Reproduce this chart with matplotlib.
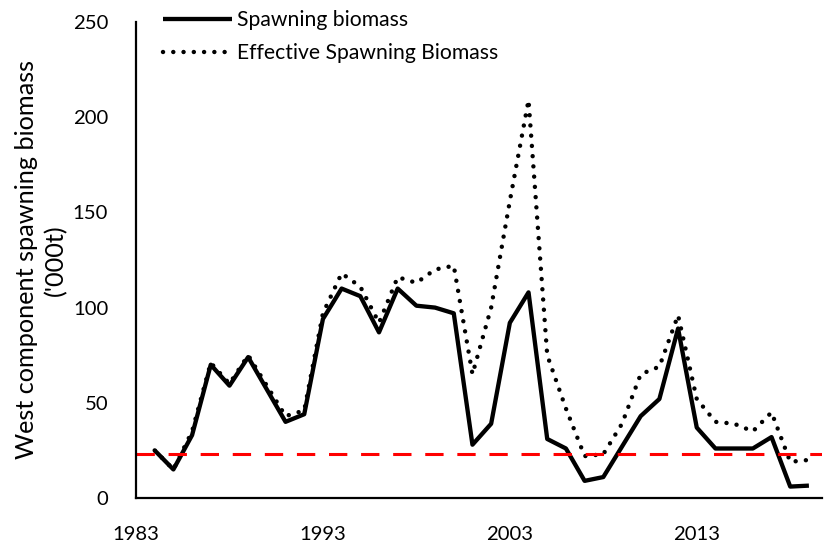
import matplotlib.pyplot as plt
import numpy as np

years = list(range(1984, 2020))
spawning = [25, 15, 33, 70, 59, 74, 57, 40, 44, 94, 110, 106, 87, 110, 101, 100, 97, 28, 39,
            92, 108, 31, 26, 9, 11, 27, 43, 52, 89, 37, 26, 26, 26, 32, 6, 6.5]
effective = [25, 15, 35, 71, 60, 75, 59, 43, 46, 97, 118, 111, 92, 116, 113, 120, 122, 65, 100,
             156, 209, 75, 47, 22, 23, 39, 65, 69, 96, 52, 40, 39, 35, 45, 19, 20]
threshold = 23
xticks = [1983, 1993, 2003, 2013]
yticks = [0, 50, 100, 150, 200, 250]

plt.rcParams['font.family'] = ['Lato', 'DejaVu Sans']

fig = plt.figure(figsize=(8.24, 5.45), dpi=100)
ax = fig.add_axes([136 / 824, 47 / 545, 686 / 824, 476 / 545])

ax.plot(years, spawning, color='black', lw=3.1, solid_joinstyle='round',
        solid_capstyle='butt', label='Spawning biomass')
ax.plot(years, effective, color='black', lw=3.2, linestyle=(0, (0.01, 2.3)),
        dash_capstyle='round', label='Effective Spawning Biomass')
ax.axhline(threshold, color='#ff0000', lw=2.2, linestyle=(0, (6, 4.5)))

ax.set_xlim(1983, 2019.7)
ax.set_ylim(0, 250)
ax.set_xticks(xticks)
ax.set_yticks(yticks)
ax.tick_params(length=0, labelsize=14.6)
ax.tick_params(axis='x', pad=20)
ax.tick_params(axis='y', pad=20)
for s in ['top', 'right']:
    ax.spines[s].set_visible(False)
for s in ['left', 'bottom']:
    ax.spines[s].set_linewidth(1.6)

ax.set_ylabel("West component spawning biomass\n('000t)", fontsize=18.2, labelpad=4,
              linespacing=1.3)

ax.legend(loc='upper left', bbox_to_anchor=(0.039, 1.025), frameon=False, fontsize=15.2,
          handlelength=3.3, handletextpad=0.2, labelspacing=0.62, borderaxespad=0,
          borderpad=0)

fig.savefig('out.png', dpi=100)
